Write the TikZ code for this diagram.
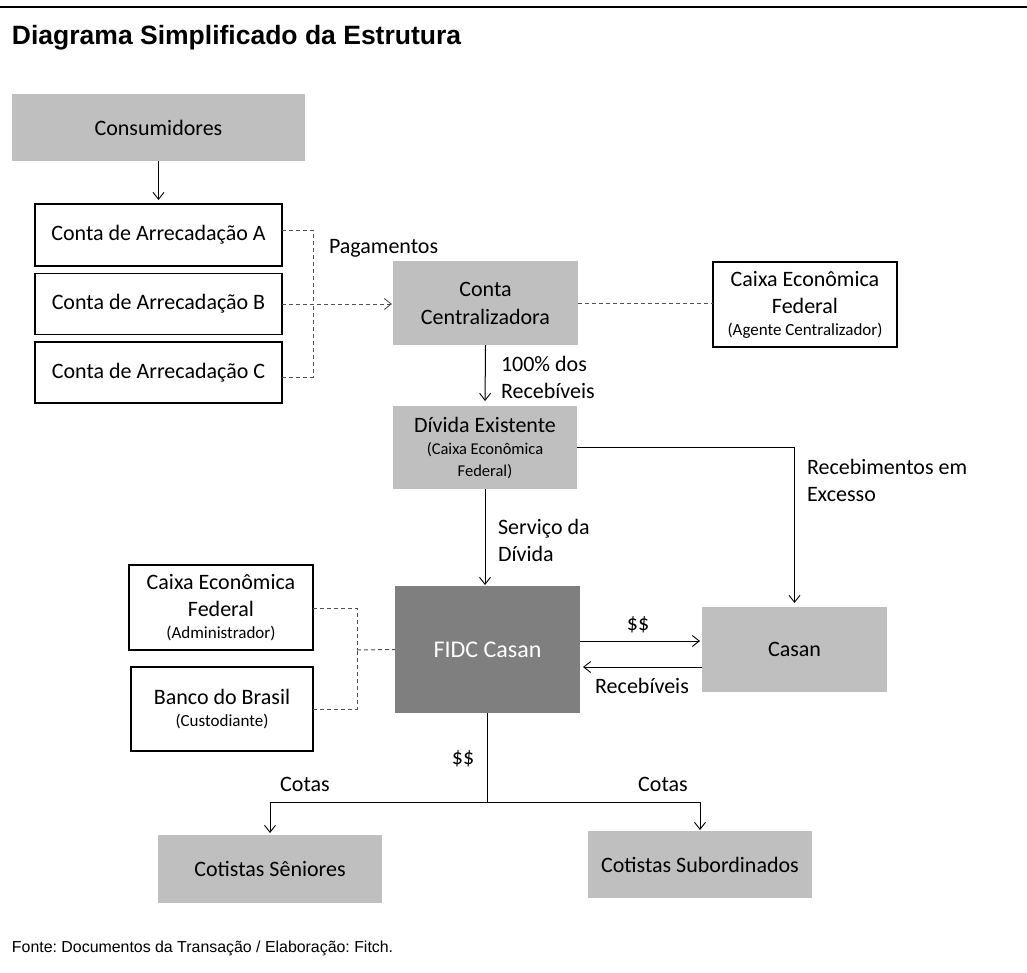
\documentclass[tikz,border=0pt]{standalone}
\usepackage{fontspec}
\setmainfont{Carlito}
\newfontfamily\arialf{Liberation Sans}
\usetikzlibrary{arrows.meta}
\definecolor{lgray}{HTML}{BFBFBF}
\definecolor{dgray}{HTML}{7F7F7F}
\definecolor{dashc}{HTML}{505050}
\frenchspacing
\begin{document}
\begin{tikzpicture}[x=1pt,y=-1pt,
  every node/.style={inner sep=0pt,outer sep=0pt},
  txt/.style={font=\fontsize{22}{27}\selectfont},
  gbox/.style={fill=lgray,align=center,font=\fontsize{22}{28}\selectfont},
  wbox/.style={draw=black,line width=1.2pt,fill=white,align=center,font=\fontsize{22}{27}\selectfont},
  dbox/.style={fill=dgray,text=white,align=center,font=\fontsize{24}{29}\selectfont},
  arr/.style={line width=1pt,-{Straight Barb[length=7pt,width=11pt,line width=0.9pt]}},
  ln/.style={line width=1pt},
  dsh/.style={line width=1pt,draw=dashc,dash pattern=on 4pt off 3pt},
  dsharr/.style={dsh,-{Straight Barb[length=7pt,width=11pt,line width=0.9pt]}}
]
\useasboundingbox[fill=white] (0,0) rectangle (1027,972);
\coordinate (rl) at (0,7);
\coordinate (rr) at (1027,7);
\draw[line width=2pt] (rl) -- (rr);
\node[anchor=base west,font=\arialf\bfseries\fontsize{26.5}{31}\selectfont] (title) at (12,44) {Diagrama Simplificado da Estrutura};

% boxes
\node[gbox,minimum width=293pt,minimum height=67pt] (cons) at (158.5,127.5) {Consumidores};
\node[wbox,minimum width=247pt,minimum height=62pt] (A) at (158.5,235) {Conta de Arrecadação A};
\node[wbox,minimum width=247pt,minimum height=61pt] (B) at (158.5,304) {Conta de Arrecadação B};
\node[wbox,minimum width=247pt,minimum height=61pt] (C) at (158.5,372.5) {Conta de Arrecadação C};
\node[gbox,minimum width=185pt,minimum height=84pt] (cc) at (485.5,303) {Conta\\Centralizadora};
\node[wbox,minimum width=184pt,minimum height=85pt] (cef1) at (805,304.5) {Caixa Econômica\\Federal\\[-5pt]{\fontsize{17}{21}\selectfont (Agente Centralizador)}};
\node[gbox,minimum width=184pt,minimum height=83pt] (div) at (485,447.5) {Dívida Existente\\[-6pt]{\fontsize{16.5}{20}\selectfont (Caixa Econômica}\\[-6pt]{\fontsize{16.5}{20}\selectfont Federal)}};
\node[dbox,minimum width=185pt,minimum height=127pt] (fidc) at (487.5,649.5) {FIDC Casan};
\node[gbox,minimum width=185pt,minimum height=85pt] (casan) at (794.5,649.5) {Casan};
\node[wbox,minimum width=184pt,minimum height=85pt] (cef2) at (221,607.5) {Caixa Econômica\\Federal\\[-5pt]{\fontsize{17}{21}\selectfont (Administrador)}};
\node[wbox,minimum width=182pt,minimum height=84pt] (bb) at (222,709) {Banco do Brasil\\[-5pt]{\fontsize{17}{21}\selectfont (Custodiante)}};
\node[gbox,minimum width=224pt,minimum height=68pt] (sen) at (270,869) {Cotistas Sêniores};
\node[gbox,minimum width=224pt,minimum height=67pt] (sub) at (700,864.5) {Cotistas Subordinados};

% solid arrows
\draw[arr,shorten >=4pt] (cons.south) -- (A.north);
\draw[arr,shorten >=5pt] (cc.south) -- (div.north);
\draw[arr,shorten >=1pt] (div.south) -- (div.south |- fidc.north);
\draw[arr,shorten >=4pt] (div.east) -| (casan.north);
\draw[arr,shorten >=2pt] (fidc.east |- 0,641) -- (casan.west |- 0,641);
\draw[arr,shorten >=3pt] (casan.west |- 0,667) -- (fidc.east |- 0,667);
\coordinate (br) at (487.5,802);
\draw[ln] (fidc.south) -- (br);
\draw[arr,shorten >=2pt] (br) -| (sen.north);
\draw[arr,shorten >=1pt] (br) -| (sub.north);

% dashed connectors
\coordinate (dj1) at (313,304);
\draw[dsh] (A.east |- 0,230) -| (dj1);
\draw[dsh] (C.east |- 0,377) -| (dj1);
\draw[dsharr,shorten >=1pt] (B.east) -- (cc.west |- B.east);
\draw[dsh] (cc.east) -- (cef1.west |- cc.east);
\coordinate (dj2) at (357,650);
\draw[dsh] (cef2.east |- 0,608) -| (dj2);
\draw[dsh] (bb.east) -| (dj2);
\draw[dsh] (dj2) -- (fidc.west);

% labels
\node[txt,anchor=west] (lpag) at (329,248) {Pagamentos};
\node[txt,anchor=west,align=left] (l100) at (501,377.5) {100\% dos\\Recebíveis};
\node[txt,anchor=west,align=left] (lserv) at (498,540) {Serviço da\\Dívida};
\node[txt,anchor=west,align=left] (lexc) at (807,480.5) {Recebimentos em\\Excesso};
\node[txt] (ld1) at (638,625) {\$\$};
\node[txt] (lrec) at (642,686) {Recebíveis};
\node[txt] (ld2) at (463,759) {\$\$};
\node[txt] (lc1) at (305,784) {Cotas};
\node[txt] (lc2) at (663,784) {Cotas};

\node[anchor=base west,font=\arialf\fontsize{15.9}{19}\selectfont] (foot) at (12,952) {Fonte: Documentos da Transação / Elaboração: Fitch.};
\end{tikzpicture}
\end{document}
